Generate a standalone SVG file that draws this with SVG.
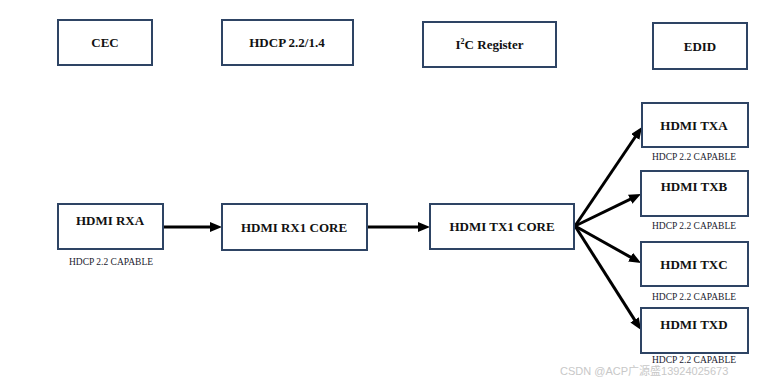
<svg xmlns="http://www.w3.org/2000/svg" width="777" height="378" viewBox="0 0 777 378">
<style>
.box{fill:#fff;stroke:#2e4464;stroke-width:2}
.t{font-family:"Liberation Serif","Times New Roman",serif;font-weight:bold;font-size:13px;fill:#111;text-anchor:middle}
.s{font-family:"Liberation Serif","Times New Roman",serif;font-size:9.5px;fill:#1a1a2e;text-anchor:middle}
.c{stroke:#000;stroke-width:3;fill:none;marker-end:url(#ah)}
.wm{font-family:"Liberation Sans","Noto Sans CJK SC",sans-serif;font-size:11px;fill:#c8c8c8}
</style>
<defs>
<marker id="ah" markerUnits="userSpaceOnUse" viewBox="0 0 12 10" refX="6" refY="5" markerWidth="12" markerHeight="10" orient="auto">
<path d="M0,0 L12,5 L0,10 Z" fill="#000"/>
</marker>
</defs>
<rect width="777" height="378" fill="#fff"/>
<g id="connectors">
<line class="c" x1="163" y1="227" x2="216" y2="227"/>
<line class="c" x1="367" y1="227" x2="424" y2="227"/>
<line class="c" x1="575" y1="226" x2="638.6" y2="132"/>
<line class="c" x1="575" y1="226" x2="635.6" y2="196.6"/>
<line class="c" x1="575" y1="226" x2="635.8" y2="260.1"/>
<line class="c" x1="575" y1="226" x2="637.8" y2="324.9"/>
</g>
<g id="cec"><rect class="box" x="58" y="20" width="94" height="45"/><text class="t" x="105" y="47">CEC</text></g>
<g id="hdcp"><rect class="box" x="222" y="20" width="131" height="45"/><text class="t" x="287" y="47">HDCP 2.2/1.4</text></g>
<g id="i2c"><rect class="box" x="423" y="22" width="133" height="45"/><text class="t" x="489.5" y="49">I<tspan font-size="8" dy="-5">2</tspan><tspan dy="5">C Register</tspan></text></g>
<g id="edid"><rect class="box" x="653" y="23" width="94" height="46"/><text class="t" x="700" y="51">EDID</text></g>
<g id="rxa"><rect class="box" x="58" y="204" width="105" height="45"/><text class="t" x="110" y="225">HDMI RXA</text><text class="s" x="111" y="265">HDCP 2.2 CAPABLE</text></g>
<g id="rx1core"><rect class="box" x="222" y="204" width="145" height="46"/><text class="t" x="294" y="232">HDMI RX1 CORE</text></g>
<g id="tx1core"><rect class="box" x="430" y="204" width="144" height="45"/><text class="t" x="502" y="231">HDMI TX1 CORE</text></g>
<g id="txa"><rect class="box" x="642" y="103" width="106" height="44"/><text class="t" x="694" y="130">HDMI TXA</text><text class="s" x="694" y="160">HDCP 2.2 CAPABLE</text></g>
<g id="txb"><rect class="box" x="641" y="171" width="107" height="45"/><text class="t" x="694" y="191">HDMI TXB</text><text class="s" x="694" y="229">HDCP 2.2 CAPABLE</text></g>
<g id="txc"><rect class="box" x="641" y="242" width="107" height="44"/><text class="t" x="694" y="269">HDMI TXC</text><text class="s" x="694" y="300">HDCP 2.2 CAPABLE</text></g>
<g id="txd"><rect class="box" x="641" y="308" width="107" height="45"/><text class="t" x="694" y="329">HDMI TXD</text><text class="s" x="694" y="363">HDCP 2.2 CAPABLE</text></g>
<text class="wm" x="560" y="375">CSDN @ACP广源盛13924025673</text>
</svg>
